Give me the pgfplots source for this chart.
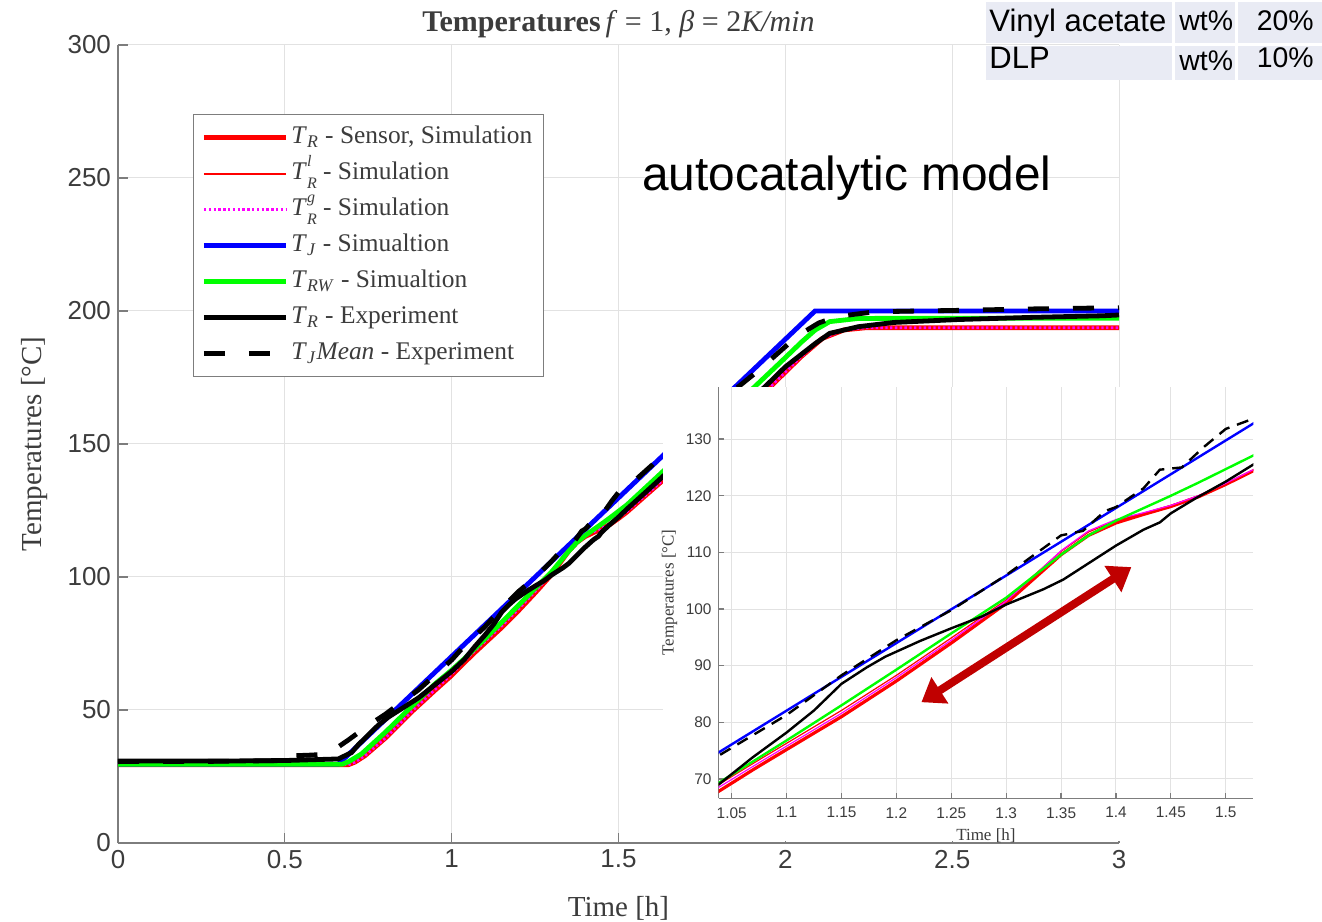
\documentclass[border=0pt]{standalone}
\usepackage{fontspec}
\setmainfont{Liberation Serif}
\setsansfont{Liberation Sans}
\usepackage{pgfplots}
\usepackage{pgfplotstable}
\pgfplotsset{compat=1.18}
\usetikzlibrary{arrows.meta}

\definecolor{axgray}{RGB}{125,125,125}
\definecolor{gridgray}{RGB}{226,226,226}
\definecolor{tickcol}{RGB}{60,60,60}
\definecolor{arrowred}{RGB}{192,0,0}
\definecolor{tabfill}{RGB}{233,235,244}
\definecolor{mred}{RGB}{255,0,0}
\definecolor{mmag}{RGB}{255,0,255}
\definecolor{mblue}{RGB}{0,0,255}
\definecolor{mgreen}{RGB}{0,255,0}

% T with stacked super- and subscript
\newcommand{\Tx}[2]{\textit{T}\rlap{\raisebox{0.52em}{\fontsize{8}{8}\selectfont\textit{#1}}}\raisebox{-0.33em}{\fontsize{8}{8}\selectfont\textit{#2}}}

% T_R sensor, simulation
\pgfplotstableread{
t T
0 29.4
0.5 29.4
0.69 29.4
0.71 30.4
0.74 32.8
0.80 39.3
0.88 49.3
0.95 57.4
1.00 63.0
1.038 67.8
1.07 71.7
1.10 75.2
1.15 81.0
1.20 87.3
1.25 94.0
1.30 101.0
1.325 105.3
1.35 109.6
1.375 113.0
1.40 115.2
1.425 116.7
1.45 118.1
1.475 119.8
1.50 122.0
1.525 124.4
1.60 132.7
1.70 143.7
1.80 154.6
1.90 165.5
1.955 171.5
2.047 182.8
2.111 189.7
2.176 192.9
2.24 193.7
3.00 193.7
}\tr
% T_R^l simulation
\pgfplotstableread{
t T
0 29.4
0.5 29.4
0.69 29.4
0.71 30.4
0.74 32.8
0.80 39.3
0.88 49.5
0.95 57.9
1.00 63.9
1.038 69.0
1.07 72.8
1.10 76.3
1.15 82.1
1.20 88.3
1.25 94.9
1.30 101.6
1.325 105.9
1.35 110.2
1.375 113.6
1.40 115.6
1.425 116.9
1.45 118.3
1.475 120.0
1.50 122.1
1.525 124.5
1.60 132.8
1.70 143.7
1.80 154.6
1.90 165.5
1.955 171.5
2.047 182.8
2.111 189.7
2.176 192.9
2.24 193.7
3.00 193.7
}\trl
% T_R^g simulation
\pgfplotstableread{
t T
0 29.4
0.5 29.4
0.69 29.4
0.71 30.4
0.74 32.8
0.80 39.3
0.88 49.4
0.95 57.7
1.00 63.5
1.038 68.5
1.07 72.3
1.10 75.8
1.15 81.6
1.20 87.9
1.25 94.5
1.30 101.4
1.325 105.8
1.35 110.3
1.375 113.8
1.40 115.8
1.425 117.0
1.45 118.3
1.475 120.0
1.50 122.2
1.525 124.6
1.60 132.8
1.70 143.7
1.80 154.6
1.90 165.5
1.955 171.5
2.047 182.8
2.111 189.7
2.176 192.9
2.24 193.7
3.00 193.7
}\trg
% T_J simulation
\pgfplotstableread{
t T
0 29.6
0.66 29.6
2.089 200
3.00 200
}\tj
% T_RW simulation
\pgfplotstableread{
t T
0 29.6
0.672 29.6
0.69 30.5
0.73 33.5
0.80 41.5
0.88 51.3
0.95 59.8
1.00 65.0
1.038 69.3
1.10 76.8
1.15 83.0
1.20 89.3
1.25 95.7
1.30 102.0
1.325 105.8
1.35 109.6
1.375 113.0
1.40 115.6
1.425 117.8
1.45 120.0
1.475 122.3
1.50 124.7
1.525 127.1
1.60 135.8
1.70 147.5
1.80 159.0
1.908 171.5
1.982 180.3
2.05 188.5
2.09 192.9
2.133 196.0
2.219 197.2
2.50 197.3
3.00 197.3
}\trw
% T_R experiment
\pgfplotstableread{
t T
0 30.8
0.30 30.8
0.50 31.0
0.66 31.6
0.70 34.0
0.72 36.9
0.78 44.3
0.81 47.3
0.90 54.5
0.95 59.5
1.00 64.5
1.038 69.0
1.069 73.8
1.10 78.2
1.125 82.1
1.15 86.8
1.173 89.7
1.19 91.6
1.222 94.4
1.25 96.6
1.278 98.7
1.30 100.8
1.334 103.5
1.352 105.2
1.376 108.2
1.40 111.2
1.425 114.0
1.44 115.3
1.45 116.9
1.473 119.6
1.50 122.5
1.525 125.5
1.60 134.0
1.70 145.5
1.80 157.0
1.939 171.5
2.00 179.0
2.09 187.8
2.133 191.6
2.219 194.1
2.326 195.7
2.52 196.8
2.736 197.6
2.95 198.2
3.00 198.5
}\trexp
% T_J mean experiment
\pgfplotstableread{
t T
0 30.6
0.30 30.7
0.50 31.0
0.52 32.8
0.57 33.0
0.60 33.2
0.64 34.4
0.69 38.7
0.75 44.2
0.80 48.3
0.85 53.0
0.90 57.5
1.00 68.8
1.038 74.1
1.10 81.3
1.15 88.3
1.20 94.5
1.25 99.8
1.30 106.0
1.35 113.0
1.37 113.8
1.39 117.3
1.40 118.0
1.425 121.3
1.44 124.6
1.46 125.0
1.48 128.6
1.50 131.8
1.525 133.6
1.60 142.0
1.70 153.8
1.80 165.5
1.918 177.5
2.036 190.6
2.10 195.5
2.154 197.9
2.267 199.7
2.40 200.0
2.55 200.3
2.70 200.7
2.85 201.0
3.00 201.2
}\tjexp

\pgfplotsset{
  matlab/.style={
    scale only axis,
    axis x line*=bottom, axis y line*=left,
    axis line style={-, axgray, line width=0.6pt},
    tick style={axgray, line width=0.6pt},
    grid=major,
    major grid style={gridgray, line width=0.5pt},
    tick align=inside,
    /pgf/number format/assume math mode=true,
    tick label style={text=tickcol},
    label style={text=tickcol},
  },
}

\begin{document}
\begin{tikzpicture}
\useasboundingbox (0,0) rectangle (661pt,460.5pt);

% main axis
\begin{axis}[
  matlab,
  at={(59pt,39pt)}, anchor=south west,
  width=500.5pt, height=399pt,
  xmin=0, xmax=3, ymin=0, ymax=300,
  xtick={0,0.5,1,1.5,2,2.5,3},
  xticklabels={0,0.5,1,1.5,2,2.5,3},
  ytick={0,50,100,150,200,250,300},
  major tick length=5pt,
  tick label style={font=\sffamily\fontsize{13}{13}\selectfont},
  xlabel={Time [h]},
  ylabel={Temperatures [°C]},
  xlabel style={font=\fontsize{14.5}{14.5}\selectfont, at={(axis description cs:0.5,0)}, anchor=north, yshift=-23pt},
  ylabel style={font=\fontsize{14.5}{14.5}\selectfont, at={(axis description cs:-0.0829,0.5)}, anchor=center},
  every axis title shift=0pt,
  title={{\bfseries Temperatures}\,\textit{f} = 1, \textit{β} = 2\textit{K/min}},
  title style={font=\fontsize{15}{15}\selectfont, text=tickcol, at={(axis description cs:0.5,1.0263)}, anchor=center},
  legend image code/.code={\draw[#1] (0pt,0pt) -- (41pt,0pt);},
  legend style={at={(rel axis cs:0.0749,0.9135)}, anchor=north west,
    draw=axgray, line width=0.6pt, fill=white,
    font=\fontsize{12.7}{14}\selectfont, text=tickcol,
    row sep=1pt, inner xsep=4pt, inner ysep=3pt,
    nodes={inner sep=1.5pt, text height=10pt, text depth=4pt}},
  legend cell align=left,
]
\addplot[mred, line width=2.4pt] table[x=t,y=T] {\tr};
\addlegendentry{\textit{T}\textsubscript{\textit{R}} - Sensor, Simulation}
\addplot[mred, line width=1pt] table[x=t,y=T] {\trl};
\addlegendentry{\Tx{l}{R} - Simulation}
\addplot[mmag, line width=1.4pt, dash pattern=on 1.2pt off 1.2pt] table[x=t,y=T] {\trg};
\addlegendentry{\Tx{g}{R} - Simulation}
\addplot[mblue, line width=2.4pt] table[x=t,y=T] {\tj};
\addlegendentry{\textit{T}\textsubscript{\textit{J}} - Simualtion}
\addplot[mgreen, line width=2.4pt] table[x=t,y=T] {\trw};
\addlegendentry{\textit{T}\textsubscript{\textit{RW}} - Simualtion}
\addplot[black, line width=2.4pt] table[x=t,y=T] {\trexp};
\addlegendentry{\textit{T}\textsubscript{\textit{R}} - Experiment}
\addplot[black, line width=2.4pt, dash pattern=on 10.5pt off 12pt] table[x=t,y=T] {\tjexp};
\addlegendentry{\textit{T}\textsubscript{\textit{J}}\textit{Mean} - Experiment}
\end{axis}

% white panel behind the zoomed inset
\fill[white] (331.35pt,39.8pt) rectangle (640pt,267.15pt);

% inset axis
\begin{axis}[
  matlab,
  at={(359.25pt,61.35pt)}, anchor=south west,
  width=267.4pt, height=205.8pt,
  xmin=1.038, xmax=1.5251, ymin=66.59, ymax=139.25,
  xtick={1.05,1.1,1.15,1.2,1.25,1.3,1.35,1.4,1.45,1.5},
  xticklabels={1.05,1.1,1.15,1.2,1.25,1.3,1.35,1.4,1.45,1.5},
  ytick={70,80,90,100,110,120,130},
  major tick length=2.5pt,
  tick label style={font=\sffamily\fontsize{7.7}{7.7}\selectfont},
  xticklabel style={yshift=-1pt},
  xlabel={Time [h]},
  ylabel={Temperatures [°C]},
  xlabel style={font=\fontsize{8.5}{8.5}\selectfont, at={(axis description cs:0.5,0)}, anchor=center, yshift=-18.5pt},
  ylabel style={font=\fontsize{8.5}{8.5}\selectfont, at={(axis description cs:-0.0916,0.5)}, anchor=center},
]
\addplot[mred, line width=1.6pt] table[x=t,y=T] {\tr};
\addplot[mred, line width=0.6pt] table[x=t,y=T] {\trl};
\addplot[mmag, line width=0.6pt] table[x=t,y=T] {\trg};
\addplot[mblue, line width=1.2pt] table[x=t,y=T] {\tj};
\addplot[mgreen, line width=1.2pt] table[x=t,y=T] {\trw};
\addplot[black, line width=1.2pt] table[x=t,y=T] {\trexp};
\addplot[black, line width=1.2pt, dash pattern=on 6pt off 4pt] table[x=t,y=T] {\tjexp};
\draw[arrowred, line width=4pt, {Triangle[length=11pt,width=15pt]}-{Triangle[length=11pt,width=15pt]}]
  (axis cs:1.2228,83.55) -- (axis cs:1.414,107.4);
\end{axis}

% composition table and model note, in pixel units of the reference
\begin{scope}[yshift=460.5pt, x=0.5pt, y=-0.5pt]
  \fill[tabfill] (986,2) rectangle (1172,43);
  \fill[tabfill] (1175,2) rectangle (1235,43);
  \fill[tabfill] (1238,2) rectangle (1322,43);
  \fill[tabfill] (986,46) rectangle (1172,80);
  \fill[tabfill] (1175,46) rectangle (1235,80);
  \fill[tabfill] (1238,46) rectangle (1322,80);
  \begin{scope}[every node/.style={inner sep=0pt, font=\sffamily\fontsize{14.2}{14.2}\selectfont}]
    \node[anchor=base west, font=\sffamily\fontsize{15.5}{15.5}\selectfont] at (989,32) {Vinyl acetate};
    \node[anchor=base west] at (1179,31) {wt\%};
    \node[anchor=base east] at (1314,31) {20\%};
    \node[anchor=base west, font=\sffamily\fontsize{15.5}{15.5}\selectfont] at (989,69) {DLP};
    \node[anchor=base west] at (1179,71) {wt\%};
    \node[anchor=base east] at (1314,68) {10\%};
  \end{scope}
  \node[anchor=base, inner sep=0pt, font=\sffamily\fontsize{23.9}{23.9}\selectfont] at (847,191) {autocatalytic model};
\end{scope}
\end{tikzpicture}
\end{document}
